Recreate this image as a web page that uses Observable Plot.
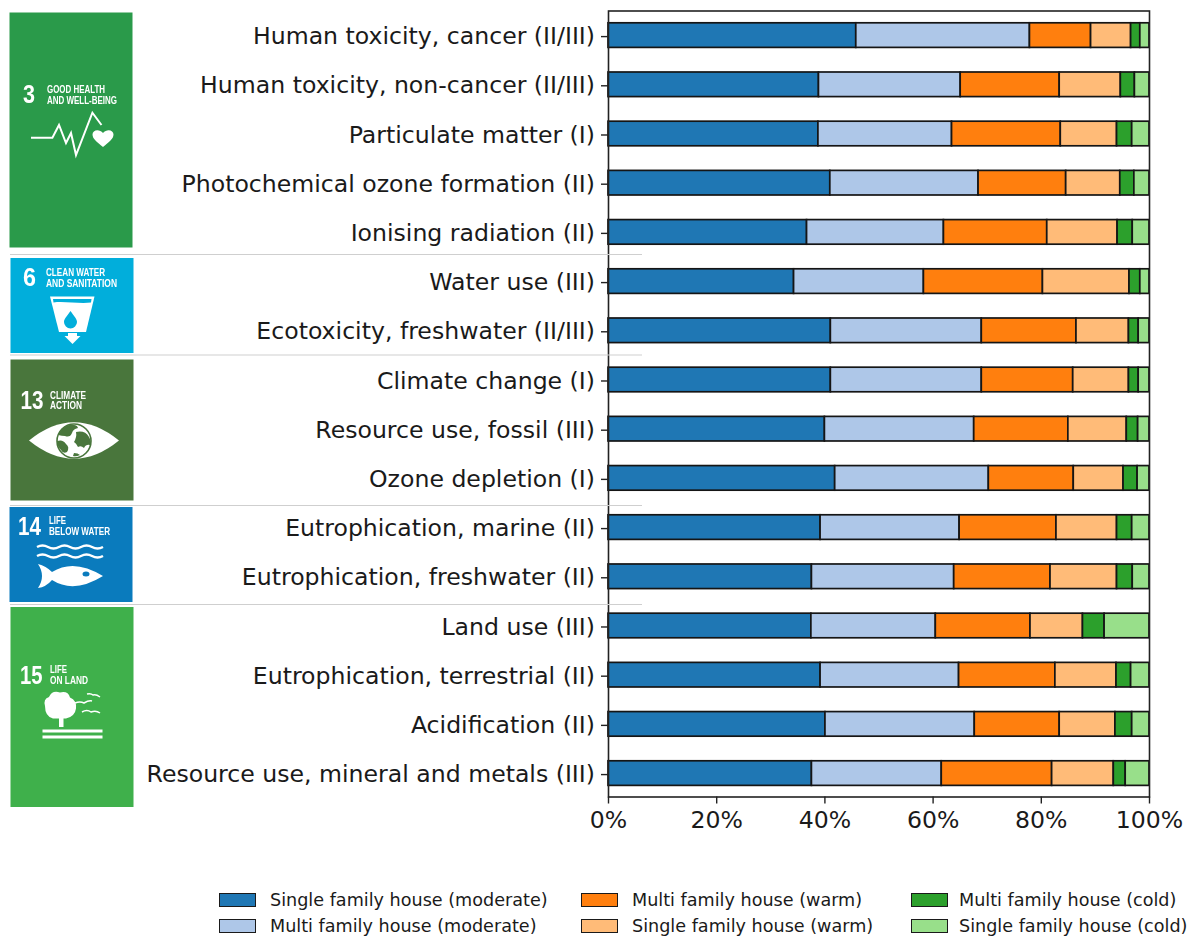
<!DOCTYPE html>
<html>
<head>
<meta charset="utf-8">
<script src="https://cdn.jsdelivr.net/npm/d3@7"></script>
<script src="https://cdn.jsdelivr.net/npm/@observablehq/plot@0.6"></script>
<style>
html,body{margin:0;padding:0;background:#fff;}
#wrap{position:relative;width:1191px;height:936px;overflow:hidden;font-family:"DejaVu Sans",sans-serif;color:#1a1a1a;}
#chart{position:absolute;left:0;top:0;}
#tiles{position:absolute;left:0;top:0;pointer-events:none;}
#tiles .t{font-family:"Liberation Sans Narrow","Liberation Sans",sans-serif;font-weight:700;fill:#fff;}
.sw{position:absolute;box-sizing:border-box;width:37px;height:14px;border:1.6px solid #1a1a1a;}
.lb{position:absolute;font-size:17.6px;line-height:20px;white-space:nowrap;}
</style>
</head>
<body>
<div id="wrap">
<div id="chart"></div>
<svg id="tiles" width="1191" height="936" viewBox="0 0 1191 936">
  <g style="filter:blur(0.35px)">
  <!-- SDG 3 -->
  <rect x="9.5" y="12.5" width="123" height="235" fill="#2a9a4a"/>
  <text class="t" x="23" y="103" font-size="26" textLength="12" lengthAdjust="spacingAndGlyphs">3</text>
  <text class="t" x="47" y="92.5" font-size="10.5" textLength="58" lengthAdjust="spacingAndGlyphs">GOOD HEALTH</text>
  <text class="t" x="47" y="103.5" font-size="10.5" textLength="70" lengthAdjust="spacingAndGlyphs">AND WELL-BEING</text>
  <polyline points="31,137.7 52.4,137.7 59,125 66,143 71,133 76,155 92.4,112.7 101.5,125" fill="none" stroke="#fff" stroke-width="2"/>
  <path d="M103,147 C97,142 92.5,139 92.5,134.5 C92.5,129.5 99.5,128.5 103,133 C106.5,128.5 113.5,129.5 113.5,134.5 C113.5,139 109,142 103,147 Z" fill="#fff"/>
  <!-- SDG 6 -->
  <rect x="10.5" y="258" width="123" height="95" fill="#01aedb"/>
  <text class="t" x="23" y="285.5" font-size="26" textLength="13" lengthAdjust="spacingAndGlyphs">6</text>
  <text class="t" x="46" y="275.5" font-size="10.5" textLength="59" lengthAdjust="spacingAndGlyphs">CLEAN WATER</text>
  <text class="t" x="46" y="287" font-size="10.5" textLength="71" lengthAdjust="spacingAndGlyphs">AND SANITATION</text>
  <path d="M50,296.5 H94.5 L86,332 H59 Z" fill="#fff"/>
  <path d="M53,299 H91.5 L91,302.5 C80,304 64,301 53.5,302.5 Z" fill="#01aedb"/>
  <path d="M70.5,311 C74,316 77,319 77,322 A6.5,6.5 0 0 1 64,322 C64,319 67,316 70.5,311 Z" fill="#01aedb"/>
  <path d="M68,333 H77 V336 H80.5 L72.5,344 L64.5,336 H68 Z" fill="#fff"/>
  <!-- SDG 13 -->
  <rect x="10.5" y="359.5" width="123" height="141" fill="#49763c"/>
  <text class="t" x="20.5" y="409" font-size="26" textLength="23" lengthAdjust="spacingAndGlyphs">13</text>
  <text class="t" x="50" y="398.5" font-size="10.5" textLength="36" lengthAdjust="spacingAndGlyphs">CLIMATE</text>
  <text class="t" x="50" y="408.5" font-size="10.5" textLength="32" lengthAdjust="spacingAndGlyphs">ACTION</text>
  <path d="M29,440.5 Q74,404 119,440.5 Q74,477 29,440.5 Z" fill="#fff"/>
  <circle cx="74" cy="441" r="17" fill="#fff" stroke="#49763c" stroke-width="1.6"/>
  <path d="M58,435 q3,-8 11,-10 q8,-1 9,3 q-5,1 -6,5 q-2,5 -7,3 q-3,0 -7,-1 Z M57,441 q6,-2 9,3 q4,3 1,8 q-4,2 -6,-2 q-4,-4 -4,-9 Z M76,432 q9,-2 13,5 q3,5 1,8 q-4,-1 -6,3 q-3,-3 -6,-1 q-2,-4 -4,-5 q3,-5 2,-10 Z M74,453 q4,0 6,2 q-4,2 -7,1 Z" fill="#49763c"/>
  <!-- SDG 14 -->
  <rect x="9.5" y="507" width="123" height="95" fill="#0a7bbd"/>
  <text class="t" x="18" y="534.5" font-size="26" textLength="23" lengthAdjust="spacingAndGlyphs">14</text>
  <text class="t" x="49" y="524" font-size="10.5" textLength="17" lengthAdjust="spacingAndGlyphs">LIFE</text>
  <text class="t" x="49" y="534.5" font-size="10.5" textLength="61" lengthAdjust="spacingAndGlyphs">BELOW WATER</text>
  <path d="M37,547 q5.5,-3 11,0 t11,0 t11,0 t11,0 t11,0 t11,0 M37,556 q5.5,-3 11,0 t11,0 t11,0 t11,0 t11,0 t11,0" fill="none" stroke="#fff" stroke-width="2.4"/>
  <path d="M38,564 Q46,566 52,572 Q74,558 103,576 Q74,594 52,580 Q46,587 38,588 Q46,576 38,564 Z" fill="#fff"/>
  <ellipse cx="86" cy="574" rx="3.5" ry="2.5" fill="#0a7bbd"/>
  <!-- SDG 15 -->
  <rect x="10.5" y="607" width="123" height="200" fill="#3fb04b"/>
  <text class="t" x="20" y="683.5" font-size="26" textLength="22.5" lengthAdjust="spacingAndGlyphs">15</text>
  <text class="t" x="50" y="672.5" font-size="10.5" textLength="17" lengthAdjust="spacingAndGlyphs">LIFE</text>
  <text class="t" x="50" y="683.5" font-size="10.5" textLength="38" lengthAdjust="spacingAndGlyphs">ON LAND</text>
  <path d="M45,706 q-2,-7 4,-9 q3,-7 11,-4.5 q8,-2 10,5 q7,3 6,11 q-1,8 -10,10 H53 q-8,-2 -8,-12.5 Z" fill="#fff"/>
  <rect x="59" y="718" width="4.5" height="9" fill="#fff"/>
  <rect x="42.5" y="729.5" width="60" height="3" fill="#fff"/>
  <rect x="42.5" y="735.5" width="60" height="3" fill="#fff"/>
  <path d="M75,703 q5,-2 9,0 q5,-3 8,-2 M87,694 q4,-1 6,1 q3,-1 7,2 M82,712 q5,-3 9,0 q5,-2 9,1" fill="none" stroke="#fff" stroke-width="1.5"/>
  </g>
  <!-- separators -->
  <g stroke="#cfcfcf" stroke-width="1.2">
    <line x1="10" x2="642" y1="254.5" y2="254.5"/>
    <line x1="10" x2="642" y1="355" y2="355"/>
    <line x1="10" x2="642" y1="505.5" y2="505.5"/>
    <line x1="10" x2="642" y1="604.5" y2="604.5"/>
  </g>
</svg>
</div>
<script>
const categories = [
  "Human toxicity, cancer (II/III)",
  "Human toxicity, non-cancer (II/III)",
  "Particulate matter (I)",
  "Photochemical ozone formation (II)",
  "Ionising radiation (II)",
  "Water use (III)",
  "Ecotoxicity, freshwater (II/III)",
  "Climate change (I)",
  "Resource use, fossil (III)",
  "Ozone depletion (I)",
  "Eutrophication, marine (II)",
  "Eutrophication, freshwater (II)",
  "Land use (III)",
  "Eutrophication, terrestrial (II)",
  "Acidification (II)",
  "Resource use, mineral and metals (III)"
];
const seriesNames = [
  "Single family house (moderate)",
  "Multi family house (moderate)",
  "Multi family house (warm)",
  "Single family house (warm)",
  "Multi family house (cold)",
  "Single family house (cold)"
];
const seriesColors = ["#1f77b4","#aec7e8","#ff7f0e","#ffbb78","#2ca02c","#98df8a"];

const singleModerate = [45.8,38.9,38.8,41.0,36.7,34.3,41.1,41.1,40.0,41.9,39.2,37.6,37.5,39.2,40.1,37.6];
const multiModerate  = [32.1,26.2,24.7,27.4,25.3,24.0,27.9,27.9,27.6,28.4,25.7,26.3,23.0,25.6,27.6,24.0];
const multiWarm      = [11.3,18.3,20.1,16.2,19.1,22.0,17.5,16.9,17.4,15.7,17.9,17.8,17.5,17.8,15.7,20.4];
const singleWarm     = [ 7.4,11.3,10.4,10.0,13.0,16.0, 9.7,10.3,10.8, 9.2,11.2,12.3, 9.7,11.3,10.3,11.4];
const multiCold      = [ 1.7, 2.6, 2.8, 2.6, 2.8, 2.0, 1.8, 1.8, 2.1, 2.6, 2.8, 2.9, 4.0, 2.7, 3.1, 2.2];
const singleCold     = [ 1.7, 2.7, 3.2, 2.8, 3.1, 1.7, 2.0, 2.0, 2.1, 2.2, 3.2, 3.1, 8.3, 3.4, 3.2, 4.4];
const xTicks = [0,20,40,60,80,100];

const allSeries = [singleModerate,multiModerate,multiWarm,singleWarm,multiCold,singleCold];
const rows = allSeries.flatMap((vals,s) => vals.map((v,i) => ({category:categories[i], series:seriesNames[s], value:v})));

const chart = Plot.plot({
  width:1191, height:860,
  marginLeft:608, marginRight:42, marginTop:10.5, marginBottom:63.5,
  style:{fontFamily:'"DejaVu Sans",sans-serif', color:"#1a1a1a", background:"transparent", overflow:"visible"},
  x:{domain:[0,100]},
  y:{type:"band", domain:categories, paddingInner:0.5, paddingOuter:0.238, align:0.525, round:false},
  color:{domain:seriesNames, range:seriesColors},
  marks:[
    Plot.barX(rows, Plot.stackX({x:"value", y:"category", fill:"series", order:null, stroke:"#151515", strokeWidth:1.7})),
    Plot.frame({stroke:"#222", strokeWidth:1.6}),
    Plot.axisY({label:null, tickSize:7, tickPadding:6.5, fontSize:23.6, dy:1, strokeWidth:1.4, stroke:"#222"}),
    Plot.axisX({label:null, ticks:xTicks, tickFormat:d=>d+"%", tickSize:7, tickPadding:7, fontSize:23.6, strokeWidth:1.4, stroke:"#222"})
  ]
});
document.getElementById("chart").appendChild(chart);

// legend below the chart
const legendColumns = [[0,1],[2,3],[4,5]];
const swatchLeft = [219,581,911];
const labelLeft = [270,632,959];
const rowTop = [892.5,919];
const wrap = document.getElementById("wrap");
legendColumns.forEach((col,c) => col.forEach((s,r) => {
  const sw = document.createElement("div");
  sw.className = "sw";
  sw.style.cssText = `left:${swatchLeft[c]}px;top:${rowTop[r]}px;background:${seriesColors[s]}`;
  const lb = document.createElement("div");
  lb.className = "lb";
  lb.textContent = seriesNames[s];
  lb.style.cssText = `left:${labelLeft[c]}px;top:${rowTop[r]-3}px`;
  wrap.append(sw,lb);
}));
</script>
</body>
</html>
